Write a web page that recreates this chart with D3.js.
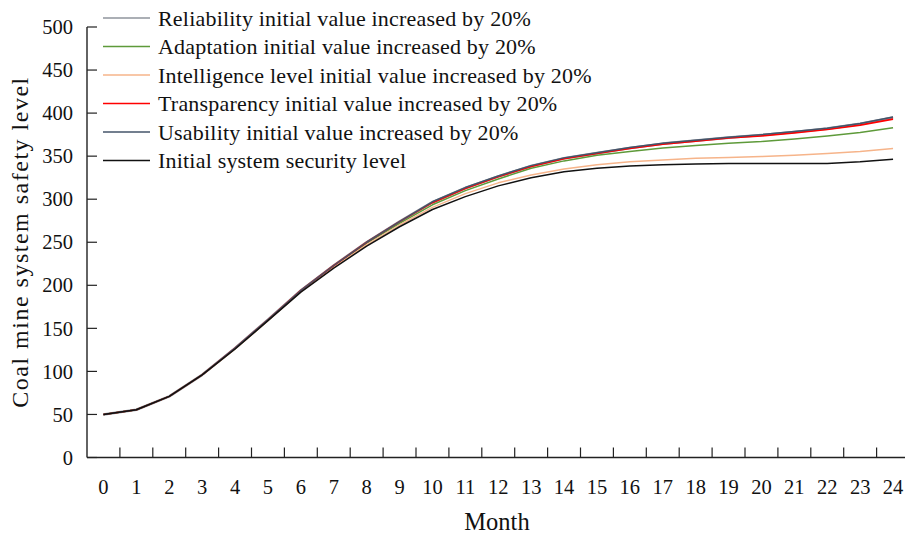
<!DOCTYPE html>
<html>
<head>
<meta charset="utf-8">
<script src="https://cdn.jsdelivr.net/npm/d3@7"></script>
<style>
  html, body { margin: 0; padding: 0; background: #fff; }
  svg { display: block; font-family: "Liberation Serif", "Times New Roman", serif; }
</style>
</head>
<body>
<svg id="chart" width="905" height="536"></svg>
<script>
// Month index (x categories)
const months = d3.range(0, 25);
const yTicks = [0, 50, 100, 150, 200, 250, 300, 350, 400, 450, 500];

// Safety level per month for each scenario
const reliability  = [50, 55.5, 71, 96, 127, 160, 194, 223, 250, 274, 296.5, 313, 326.5, 338.5, 347.5, 353.5, 359.5, 364.5, 368, 371.5, 374.5, 378, 382, 387.5, 395];
const adaptation   = [50, 55.5, 71, 96, 126.5, 159.5, 193.5, 222.5, 249, 272, 293.5, 310, 323.5, 336, 344.5, 351, 355.5, 359.5, 362.5, 365, 367, 370, 373.5, 377.5, 383];
const intelligence = [50, 55.5, 71, 96, 126, 159, 192.5, 221, 247, 270, 290.5, 306.5, 319, 328, 335, 340, 343.5, 345.5, 347.5, 348.5, 349.5, 351, 353, 355.5, 359];
const transparency = [50, 55.5, 71, 96, 127, 160, 194, 223, 250, 274, 296, 312.5, 326, 338, 347, 353, 359, 364, 367.5, 371, 373.5, 377, 381, 386, 393];
const usability    = [50, 55.5, 71, 96, 127, 160, 194, 223, 250, 274, 297, 313.5, 327, 339, 348, 354, 360, 365, 368.5, 372, 375, 378.5, 382.5, 388, 395.5];
const initial      = [50, 55.5, 71, 96, 126, 159, 192, 220, 245.5, 268, 288, 303, 315.5, 325, 332, 336, 338.5, 340, 341, 341.5, 341.5, 341.5, 341.5, 343.5, 346.5];

const series = [
  { name: "Reliability initial value increased by 20%",        values: reliability,  color: "#8f949c", width: 2.6 },
  { name: "Adaptation initial value increased by 20%",         values: adaptation,   color: "#5e9a3a", width: 1.5 },
  { name: "Intelligence level initial value increased by 20%", values: intelligence, color: "#f6b48a", width: 1.5 },
  { name: "Transparency initial value increased by 20%",       values: transparency, color: "#ff0000", width: 1.6 },
  { name: "Usability initial value increased by 20%",          values: usability,    color: "#44546a", width: 1.5 },
  { name: "Initial system security level",                     values: initial,      color: "#111111", width: 1.5 }
];

const svg = d3.select("#chart");
const plotLeft = 87, plotBottom = 457.5, plotTop = 27;
const bandW = 32.9;

// Category axis: each month gets a band, points sit on band centres
const x = d3.scaleBand().domain(months).range([plotLeft, plotLeft + bandW * months.length]).paddingInner(0).paddingOuter(0);
const y = d3.scaleLinear().domain([0, 500]).range([plotBottom, plotTop]);
const cx = m => x(m) + x.bandwidth() / 2;

const ink = "#222";

// y axis: line, inward ticks, labels
const gy = svg.append("g");
gy.append("line").attr("x1", plotLeft).attr("x2", plotLeft).attr("y1", y(500)).attr("y2", y(0))
  .attr("stroke", ink).attr("stroke-width", 1.4);
gy.selectAll("line.t").data(yTicks).join("line").attr("class", "t")
  .attr("x1", plotLeft).attr("x2", plotLeft + 10).attr("y1", d => y(d)).attr("y2", d => y(d))
  .attr("stroke", ink).attr("stroke-width", 1.2);
gy.selectAll("text").data(yTicks).join("text")
  .attr("x", 73).attr("y", d => y(d)).attr("dy", "0.35em")
  .attr("text-anchor", "end").attr("font-size", 20.5).attr("fill", "#111")
  .text(d => d);

// x axis: line, inward ticks between categories, labels
const gx = svg.append("g");
gx.append("line").attr("x1", plotLeft).attr("x2", 905).attr("y1", plotBottom).attr("y2", plotBottom)
  .attr("stroke", ink).attr("stroke-width", 1.4);
gx.selectAll("line.t").data(months.slice(1)).join("line").attr("class", "t")
  .attr("x1", d => x(d)).attr("x2", d => x(d)).attr("y1", plotBottom).attr("y2", plotBottom - 10)
  .attr("stroke", ink).attr("stroke-width", 1.2);
gx.selectAll("text").data(months).join("text")
  .attr("x", d => cx(d)).attr("y", 487).attr("dy", "0.35em")
  .attr("text-anchor", "middle").attr("font-size", 20.5).attr("fill", "#111")
  .text(d => d);

// Axis titles
svg.append("text").attr("x", 497).attr("y", 521).attr("dy", "0.35em")
  .attr("text-anchor", "middle").attr("font-size", 24.5).attr("fill", "#111").text("Month");
svg.append("text").attr("transform", "translate(20,242) rotate(-90)").attr("dy", "0.35em")
  .attr("text-anchor", "middle").attr("font-size", 24).attr("letter-spacing", 1.5).attr("fill", "#111")
  .text("Coal mine system safety level");

// Lines
const line = d3.line().x((d, i) => cx(months[i])).y(d => y(d));
svg.append("g").selectAll("path").data(series).join("path")
  .attr("d", s => line(s.values))
  .attr("fill", "none").attr("stroke", s => s.color).attr("stroke-width", s => s.width)
  .attr("stroke-linejoin", "round");

// Legend
const lg = svg.append("g").selectAll("g").data(series).join("g")
  .attr("transform", (d, i) => `translate(0,${18 + i * 28.5})`);
lg.append("line").attr("x1", 103).attr("x2", 150).attr("y1", 0).attr("y2", 0)
  .attr("stroke", d => d.color).attr("stroke-width", 1.6);
lg.append("text").attr("x", 158).attr("y", 0).attr("dy", "0.35em")
  .attr("font-size", 22).attr("letter-spacing", 0.2).attr("fill", "#111").text(d => d.name);
</script>
</body>
</html>
